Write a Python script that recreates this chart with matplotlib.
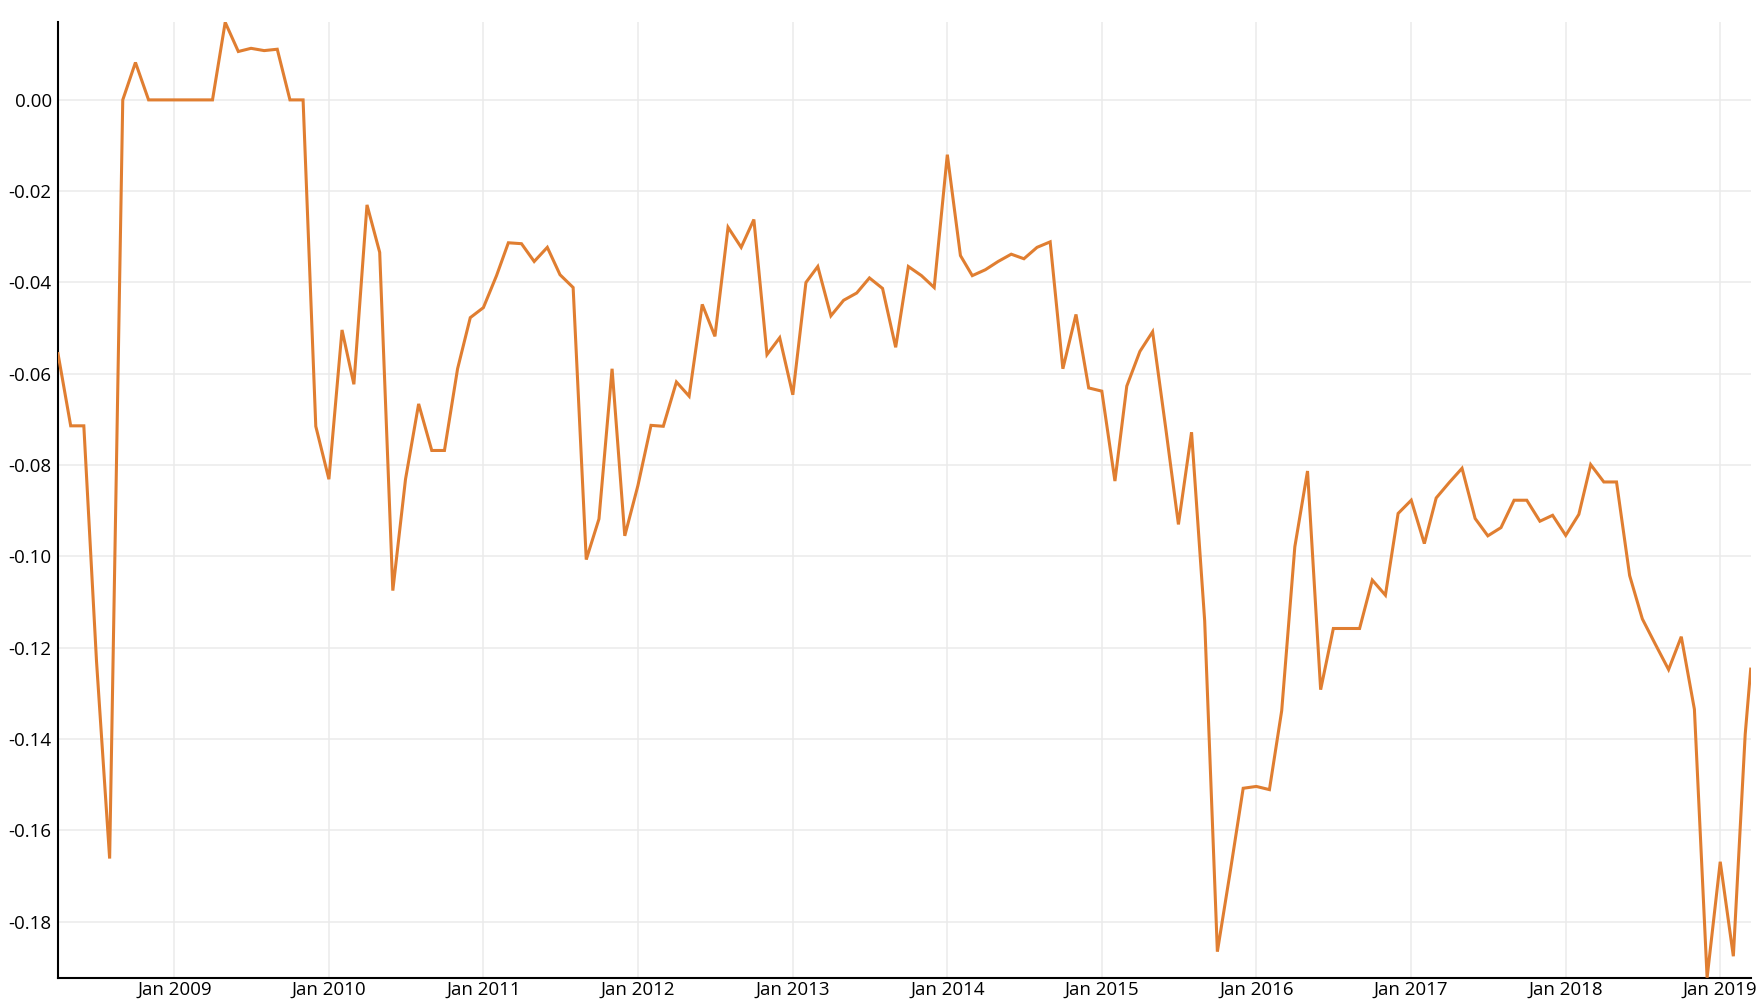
import numpy as np
import pandas as pd
import matplotlib
matplotlib.use('Agg')
import matplotlib.pyplot as plt
import matplotlib.dates as mdates

# monthly values, Apr 2008 .. Mar 2019, plus a last partial reading on 14 Mar 2019
monthly_values = [
    -0.0556, -0.0714, -0.0714, -0.1230, -0.1662, 0.0000, 0.0082, 0.0000, 0.0000,          # 2008
    0.0000, 0.0000, 0.0000, 0.0000, 0.0170, 0.0106, 0.0113, 0.0108, 0.0111, 0.0000, 0.0000, -0.0715,  # 2009
    -0.0831, -0.0504, -0.0623, -0.0230, -0.0334, -0.1075, -0.0831, -0.0666, -0.0768, -0.0768, -0.0589, -0.0477,  # 2010
    -0.0455, -0.0385, -0.0313, -0.0315, -0.0354, -0.0323, -0.0383, -0.0411, -0.1007, -0.0918, -0.0589, -0.0955,  # 2011
    -0.0845, -0.0713, -0.0715, -0.0618, -0.0649, -0.0448, -0.0518, -0.0279, -0.0323, -0.0262, -0.0558, -0.0521,  # 2012
    -0.0646, -0.0400, -0.0365, -0.0473, -0.0439, -0.0423, -0.0390, -0.0413, -0.0542, -0.0365, -0.0385, -0.0411,  # 2013
    -0.0120, -0.0341, -0.0385, -0.0372, -0.0354, -0.0338, -0.0348, -0.0323, -0.0311, -0.0589, -0.0470, -0.0631,  # 2014
    -0.0638, -0.0835, -0.0627, -0.0551, -0.0508, -0.0719, -0.0930, -0.0728, -0.1141, -0.1866, -0.1687, -0.1508,  # 2015
    -0.1504, -0.1511, -0.1338, -0.0979, -0.0813, -0.1292, -0.1158, -0.1158, -0.1158, -0.1052, -0.1085, -0.0906,  # 2016
    -0.0877, -0.0972, -0.0872, -0.0838, -0.0807, -0.0917, -0.0955, -0.0937, -0.0877, -0.0877, -0.0923, -0.0910,  # 2017
    -0.0954, -0.0908, -0.0799, -0.0837, -0.0837, -0.1042, -0.1137, -0.1193, -0.1248, -0.1176, -0.1335, -0.1923,  # 2018
    -0.1669, -0.1876, -0.1390,  # 2019
]
last_date = '2019-03-14'
last_value = -0.1247

dates = list(pd.date_range('2008-04-01', periods=len(monthly_values), freq='MS')) + [pd.Timestamp(last_date)]
values = monthly_values + [last_value]

y_ticks = [0.00, -0.02, -0.04, -0.06, -0.08, -0.10, -0.12, -0.14, -0.16, -0.18]

plt.rcParams['font.family'] = ['Open Sans', 'DejaVu Sans']
plt.rcParams['axes.unicode_minus'] = False

fig = plt.figure(figsize=(17.64, 10.08), dpi=100)
ax = fig.add_axes([58/1764, 1 - 977.7/1008, (1750.7 - 58)/1764, (977.7 - 22.3)/1008])

ax.plot(dates, values, color='#E07E31', lw=2.2, solid_joinstyle='miter', zorder=3)

ax.set_xlim(dates[0], dates[-1])
ax.set_ylim(min(values), max(values))

ax.xaxis.set_major_locator(mdates.YearLocator(1, month=1, day=1))
ax.xaxis.set_major_formatter(mdates.DateFormatter('%b %Y'))
ax.set_yticks(y_ticks)
ax.set_yticklabels(['%.2f' % t for t in y_ticks])

ax.grid(True, color='#ebebeb', lw=1.1, zorder=0)
ax.tick_params(length=0, labelsize=13.5, colors='#000000')
ax.tick_params(axis='y', pad=4.5)
ax.tick_params(axis='x', pad=2)

for s in ['top', 'right']:
    ax.spines[s].set_visible(False)
for s in ['left', 'bottom']:
    ax.spines[s].set_linewidth(1.5)
    ax.spines[s].set_color('#000000')

fig.savefig('out.png', dpi=100)
